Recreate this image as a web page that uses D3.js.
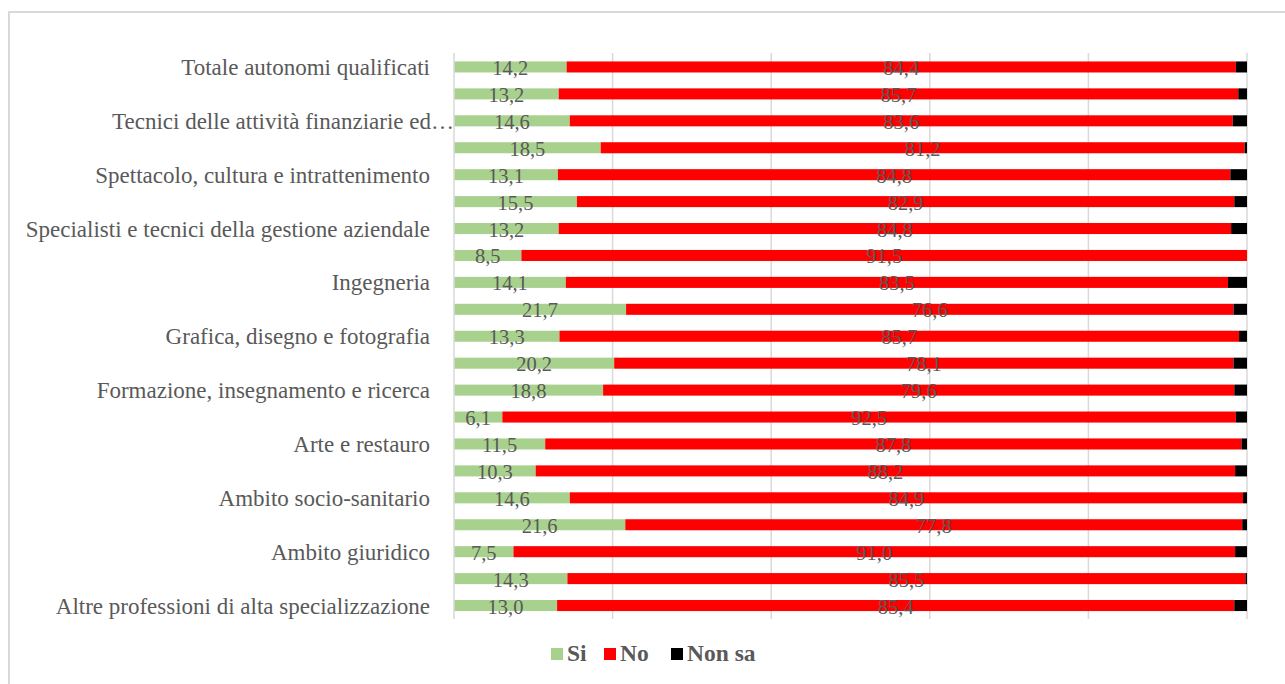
<!DOCTYPE html>
<html>
<head>
<meta charset="utf-8">
<script src="https://cdn.jsdelivr.net/npm/d3@7"></script>
<style>
  html, body { margin: 0; padding: 0; background: #fff; }
  svg { display: block; }
</style>
</head>
<body>
<svg id="chart" width="1285" height="684"></svg>
<script>
// Categories top to bottom (Excel showed only every other label; hidden ones are blank)
const categories = [
  "Totale autonomi qualificati", "",
  "Tecnici delle attività finanziarie ed…", "",
  "Spettacolo, cultura e intrattenimento", "",
  "Specialisti e tecnici della gestione aziendale", "",
  "Ingegneria", "",
  "Grafica, disegno e fotografia", "",
  "Formazione, insegnamento e ricerca", "",
  "Arte e restauro", "",
  "Ambito socio-sanitario", "",
  "Ambito giuridico", "",
  "Altre professioni di alta specializzazione"
];
const si = [14.2, 13.2, 14.6, 18.5, 13.1, 15.5, 13.2, 8.5, 14.1, 21.7, 13.3, 20.2, 18.8, 6.1, 11.5, 10.3, 14.6, 21.6, 7.5, 14.3, 13.0];
const no = [84.4, 85.7, 83.6, 81.2, 84.8, 82.9, 84.8, 91.5, 83.5, 76.6, 85.7, 78.1, 79.6, 92.5, 87.8, 88.2, 84.9, 77.8, 91.0, 85.5, 85.4];
const nonSa = [1.4, 1.1, 1.8, 0.3, 2.1, 1.6, 2.0, 0.0, 2.4, 1.7, 1.0, 1.7, 1.6, 1.4, 0.7, 1.5, 0.5, 0.6, 1.5, 0.2, 1.6];
const seriesNames = ["Si", "No", "Non sa"];
const seriesColors = ["#a9d18e", "#ff0000", "#000000"];
const xTicks = [0, 20, 40, 60, 80, 100];

const svg = d3.select("#chart");
const textColor = "#595959";
const serif = "'Liberation Serif', 'DejaVu Serif', serif";

// chart border
svg.append("rect").attr("x", 9).attr("y", 12).attr("width", 1290).attr("height", 690)
  .attr("fill", "none").attr("stroke", "#d9d9d9").attr("stroke-width", 2);

const x = d3.scaleLinear().domain([0, 100]).range([454, 1247]);
const idx = d3.range(categories.length);
const y = d3.scaleBand().domain(idx).range([53.5, 619]).paddingInner(0.59).paddingOuter(0.295);

// gridlines
svg.append("g").selectAll("line").data(xTicks.slice(1)).join("line")
  .attr("x1", d => x(d)).attr("x2", d => x(d))
  .attr("y1", 53).attr("y2", 619)
  .attr("stroke", "#d9d9d9").attr("stroke-width", 1.5);

// stacked data
const rows = idx.map(i => ({ i, Si: si[i], No: no[i], "Non sa": nonSa[i] }));
const stack = d3.stack().keys(seriesNames)(rows);

const g = svg.append("g");
stack.forEach((layer, k) => {
  g.append("g").attr("fill", seriesColors[k]).selectAll("rect").data(layer).join("rect")
    .attr("x", d => x(d[0]))
    .attr("width", d => Math.max(0, x(d[1]) - x(d[0])))
    .attr("y", d => y(d.data.i))
    .attr("height", y.bandwidth());
});

// y axis line
svg.append("line").attr("x1", x(0)).attr("x2", x(0)).attr("y1", 53).attr("y2", 619)
  .attr("stroke", "#d9d9d9").attr("stroke-width", 1.5);

// data labels (Si and No)
const fmt = v => v.toFixed(1).replace(".", ",");
[0, 1].forEach(k => {
  g.append("g").selectAll("text").data(stack[k]).join("text")
    .attr("x", d => (x(d[0]) + x(d[1])) / 2)
    .attr("y", d => y(d.data.i) + y.bandwidth() / 2 + 8)
    .attr("text-anchor", "middle")
    .attr("font-family", serif).attr("font-size", 20.5)
    .attr("fill", textColor)
    .text(d => fmt(d[1] - d[0]));
});

// category labels
svg.append("g").selectAll("text").data(idx.filter(i => categories[i] !== "")).join("text")
  .attr("x", i => categories[i].endsWith("…") ? 454 : 430)
  .attr("y", i => y(i) + y.bandwidth() / 2 + 8)
  .attr("text-anchor", "end")
  .attr("font-family", serif).attr("font-size", 23)
  .attr("fill", textColor)
  .text(i => categories[i]);

// legend
const legendItems = [
  { name: "Si", sx: 551 },
  { name: "No", sx: 604 },
  { name: "Non sa", sx: 671 }
];
const lg = svg.append("g");
legendItems.forEach((it, k) => {
  lg.append("rect").attr("x", it.sx).attr("y", 648).attr("width", 12).attr("height", 12)
    .attr("fill", seriesColors[k]);
  lg.append("text").attr("x", it.sx + 16).attr("y", 661)
    .attr("font-family", serif).attr("font-weight", "bold").attr("font-size", 23.5)
    .attr("fill", textColor).text(seriesNames[k]);
});
</script>
</body>
</html>
